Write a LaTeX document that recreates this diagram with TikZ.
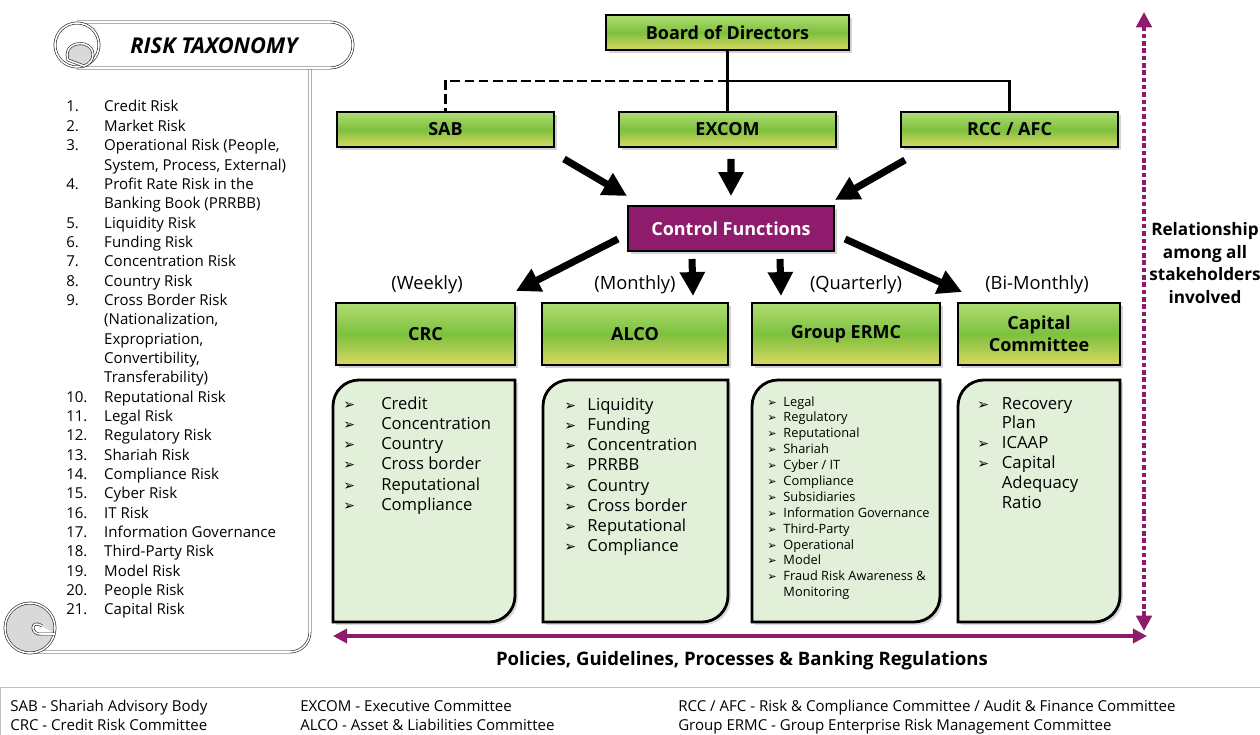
\documentclass[tikz,border=0pt]{standalone}
\usepackage{fontspec}
\setmainfont{Open Sans}
\newfontfamily\dingfont{DejaVu Sans}
\usetikzlibrary{arrows.meta,shadows}
\definecolor{plum}{RGB}{142,27,108}
\definecolor{topgreen}{RGB}{175,222,115}
\definecolor{midgreen}{RGB}{125,192,62}
\definecolor{lowyellow}{RGB}{218,216,98}
\definecolor{panelgreen}{RGB}{226,239,217}
\newcommand{\tick}{{\dingfont\fontsize{10}{10}\selectfont ➢}}
\newcommand{\smalltick}{{\dingfont\fontsize{8}{8}\selectfont ➢}}

\begin{document}
\begin{tikzpicture}[x=0.025cm,y=-0.025cm,
    committee/.style={draw=black,line width=1.4pt,top color=topgreen,bottom color=lowyellow,middle color=midgreen,
        font=\bfseries\fontsize{12.8}{15.6}\selectfont,align=center,inner sep=0pt,
        drop shadow={shadow xshift=2pt,shadow yshift=-2pt,opacity=0.35}},
    toprow/.style={committee,minimum width=5.425cm,minimum height=0.875cm},
    lowrow/.style={committee,minimum height=1.55cm},
    ctrlbox/.style={draw=black,line width=1.4pt,fill=plum,text=white,font=\bfseries\fontsize{12.8}{15}\selectfont,
        minimum width=5.15cm,minimum height=1.125cm,inner sep=0pt,
        drop shadow={shadow xshift=2pt,shadow yshift=-2pt,opacity=0.35}},
    link/.style={line width=1.5pt},
    bigarrow/.style={line width=5pt,-{Triangle[length=17pt,width=17pt]}},
    panel/.style={fill=panelgreen,draw=black,line width=2pt,
        drop shadow={shadow xshift=2pt,shadow yshift=-2pt,opacity=0.3}},
    listtext/.style={anchor=base west,inner sep=0pt},
    scroll/.style={draw=black!85,line width=0.45pt,double=white,double distance=1.1pt},
    freq/.style={font=\fontsize{13}{15}\selectfont}]
\useasboundingbox (0,0) rectangle (1260,735);

% scroll with the risk taxonomy
\draw[scroll] (55,45) -- (55,607);
\draw[scroll] (30,652) -- (290,652) .. controls (301,652) and (310,643) .. (310,632) -- (310,68);
\draw[scroll,fill=white] (77,22) -- (330,22) .. controls (342.7,22) and (353,32.3) .. (353,45)
    .. controls (353,57.7) and (342.7,68) .. (330,68) -- (77,68);
\draw[scroll,fill=white] (77,45) circle[radius=22];
\draw[scroll,fill=gray!30] (68,60) .. controls (64,48) and (74,42) .. (84,44)
    .. controls (96,47) and (96,62) .. (84,66) -- cycle;
\draw[scroll,fill=gray!30] (30,628) circle[radius=25];
\draw[scroll,fill=white] (42,626) .. controls (30,618) and (30,636) .. (42,634) -- (55,634);
\node[font=\bfseries\itshape\fontsize{15.5}{18}\selectfont] (title) at (214,46) {RISK TAXONOMY};
\node[listtext,font=\fontsize{10.7}{13.75}\selectfont] (taxonomy) at (66,112) {%
\begin{tabular}[t]{@{}p{27pt}@{}l@{}}
1. & Credit Risk\\
2. & Market Risk\\
3. & Operational Risk (People,\\
   & System, Process, External)\\
4. & Profit Rate Risk in the\\
   & Banking Book (PRRBB)\\
5. & Liquidity Risk\\
6. & Funding Risk\\
7. & Concentration Risk\\
8. & Country Risk\\
9. & Cross Border Risk\\
   & (Nationalization,\\
   & Expropriation,\\
   & Convertibility,\\
   & Transferability)\\
10. & Reputational Risk\\
11. & Legal Risk\\
12. & Regulatory Risk\\
13. & Shariah Risk\\
14. & Compliance Risk\\
15. & Cyber Risk\\
16. & IT Risk\\
17. & Information Governance\\
18. & Third-Party Risk\\
19. & Model Risk\\
20. & People Risk\\
21. & Capital Risk
\end{tabular}};

% governance boxes
\node[committee,minimum width=6.075cm,minimum height=0.875cm] (board) at (727.5,32.5) {Board of Directors};
\node[toprow] (sab) at (445.5,129.5) {SAB};
\node[toprow] (excom) at (727.5,129.5) {EXCOM};
\node[toprow] (rcc) at (1009.5,129.5) {RCC / AFC};
\node[ctrlbox] (ctrl) at (731,228.5) {Control Functions};
\node[lowrow,minimum width=4.475cm] (crc) at (425.5,334) {CRC};
\node[lowrow,minimum width=4.65cm] (alco) at (635,334) {ALCO};
\node[lowrow,minimum width=4.7cm] (ermc) at (846,334) {Group ERMC};
\node[lowrow,minimum width=4.05cm] (capital) at (1039,334) {Capital\\Committee};

\coordinate (bus) at (727.5,81);
\draw[link] (board.south) -- (excom.north);
\draw[link] (bus) -| (rcc.north);
\draw[link,dash pattern=on 7pt off 3pt] (bus) -| (sab.north);

\draw[bigarrow] ([shift={(9,11)}]sab.south east) -- ([shift={(0,-9)}]ctrl.north west);
\draw[bigarrow] ([shift={(3.5,11)}]excom.south) -- ([shift={(0,-9)}]ctrl.north);
\draw[bigarrow] ([shift={(5,12)}]rcc.south west) -- ([shift={(0,-5)}]ctrl.north east);
\draw[bigarrow] ([shift={(-9,-13)}]ctrl.south west) -- ([shift={(0,-11)}]crc.north east);
\draw[bigarrow] ([shift={(-39,7)}]ctrl.south) -- ([shift={(58,-6)}]alco.north);
\draw[bigarrow] ([shift={(49,7)}]ctrl.south) -- ([shift={(-65,-6)}]ermc.north);
\draw[bigarrow] ([shift={(10,-13)}]ctrl.south east) -- ([shift={(5,-10)}]capital.north west);

\node[freq] (weekly) at (427,285) {(Weekly)};
\node[freq] (monthly) at (635,285) {(Monthly)};
\node[freq] (quarterly) at (856,285) {(Quarterly)};
\node[freq] (bimonthly) at (1037,285) {(Bi-Monthly)};

% risk panels
\foreach \xa/\xb in {333/515,543/728,752/940,958/1120}{
    \draw[panel] (\xa,622) -- (\xa,406) .. controls (\xa,391.6) and ({\xa+11.6},380) .. ({\xa+26},380)
        -- (\xb,380) -- (\xb,596) .. controls (\xb,610.4) and ({\xb-11.6},622) .. ({\xb-26},622) -- cycle;
}
\node[listtext,font=\fontsize{11.8}{14.4}\selectfont] (crclist) at (343,409) {%
\begin{tabular}[t]{@{}p{27pt}@{}l@{}}
\tick & Credit\\ \tick & Concentration\\ \tick & Country\\
\tick & Cross border\\ \tick & Reputational\\ \tick & Compliance
\end{tabular}};
\node[listtext,font=\fontsize{11.8}{14.4}\selectfont] (alcolist) at (564,410) {%
\begin{tabular}[t]{@{}p{16.5pt}@{}l@{}}
\tick & Liquidity\\ \tick & Funding\\ \tick & Concentration\\ \tick & PRRBB\\
\tick & Country\\ \tick & Cross border\\ \tick & Reputational\\ \tick & Compliance
\end{tabular}};
\node[listtext,font=\fontsize{9.1}{11.3}\selectfont] (ermclist) at (767,406) {%
\begin{tabular}[t]{@{}p{11.5pt}@{}l@{}}
\smalltick & Legal\\ \smalltick & Regulatory\\ \smalltick & Reputational\\ \smalltick & Shariah\\
\smalltick & Cyber / IT\\ \smalltick & Compliance\\ \smalltick & Subsidiaries\\ \smalltick & Information Governance\\
\smalltick & Third-Party\\ \smalltick & Operational\\ \smalltick & Model\\ \smalltick & Fraud Risk Awareness \&\\
      & Monitoring
\end{tabular}};
\node[listtext,font=\fontsize{11.9}{14.2}\selectfont] (capitallist) at (977,409) {%
\begin{tabular}[t]{@{}p{17.5pt}@{}l@{}}
\tick & Recovery\\ & Plan\\ \tick & ICAAP\\ \tick & Capital\\ & Adequacy\\ & Ratio
\end{tabular}};

% relationship and policy arrows
\coordinate (reltop) at (1144,12);
\coordinate (relbottom) at (1144,631);
\coordinate (polleft) at (333,636);
\coordinate (polright) at (1147,636);
\draw[plum,line width=3pt,dash pattern=on 3.2pt off 2pt,
    {Triangle[length=11pt,width=11pt]}-{Triangle[length=11pt,width=11pt]}] (reltop) -- (relbottom);
\draw[plum,line width=3pt,
    {Triangle[length=10pt,width=10pt]}-{Triangle[length=10pt,width=10pt]}] (polleft) -- (polright);
\node[align=center,font=\bfseries\fontsize{12.2}{16}\selectfont] (relation) at (1205,263)
    {Relationship\\among all\\stakeholders\\involved};
\node[font=\bfseries\fontsize{13.2}{15}\selectfont] (policies) at (742,661)
    {Policies, Guidelines, Processes \& Banking Regulations};

% abbreviations
\draw[gray!50] (0,735) -- (0,687) -- (1260,687);
\begin{scope}[every node/.style={anchor=base west,inner sep=0pt,font=\fontsize{10.7}{12}\selectfont}]
\node (sabkey) at (10,711) {SAB - Shariah Advisory Body};
\node (crckey) at (10,730) {CRC - Credit Risk Committee};
\node (excomkey) at (300,711) {EXCOM - Executive Committee};
\node (alcokey) at (300,730) {ALCO - Asset \& Liabilities Committee};
\node (rcckey) at (678,711) {RCC / AFC - Risk \& Compliance Committee / Audit \& Finance Committee};
\node (ermckey) at (678,730) {Group ERMC - Group Enterprise Risk Management Committee};
\end{scope}
\end{tikzpicture}
\end{document}
